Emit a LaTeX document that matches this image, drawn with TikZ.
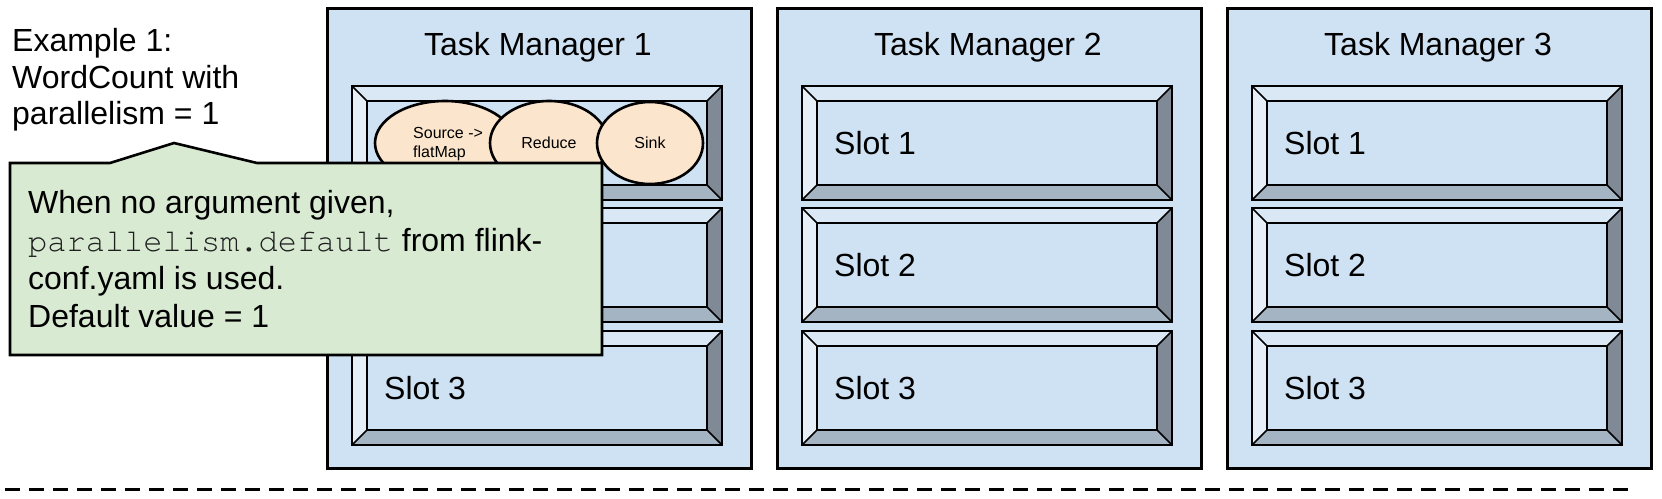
\documentclass[tikz,border=0pt]{standalone}
\usepackage{fontspec}
\setmainfont{Liberation Sans}
\newfontfamily\codefont{TeX Gyre Cursor}
\definecolor{tmblue}{HTML}{CFE2F3}
\definecolor{bvtopc}{HTML}{DAE7F4}
\definecolor{bvleftc}{HTML}{E6EEF7}
\definecolor{bvrightc}{HTML}{7F8A96}
\definecolor{bvbotc}{HTML}{A5B4C2}
\definecolor{calloutgreen}{HTML}{D9EAD3}
\definecolor{peach}{HTML}{FCE5CD}
\definecolor{codegray}{HTML}{1E1E1E}
\tikzset{
  boxline/.style={draw=black, line width=2.6pt},
  bevelline/.style={draw=black, line width=1.6pt},
  tmbox/.style={boxline, fill=tmblue, inner sep=0pt, anchor=north west},
  tmtitle/.style={font=\fontsize{32}{38}\selectfont, inner sep=0pt, anchor=base},
  slotlabel/.style={font=\fontsize{32}{38}\selectfont, inner sep=0pt, anchor=base west},
  bigtext/.style={font=\fontsize{32}{38}\selectfont, inner sep=0pt, anchor=base west},
  opnode/.style={ellipse, draw=black, line width=2.6pt, fill=peach, inner sep=0pt},
  optext/.style={font=\fontsize{16}{19}\selectfont, inner sep=0pt},
  callout/.style={boxline, fill=calloutgreen, line join=miter},
}
\usetikzlibrary{shapes.geometric}
\newcommand{\SlotBox}[4]{%
  \coordinate (#3-a) at (#1,#2);
  \coordinate (#3-b) at ({#1+370},#2);
  \coordinate (#3-c) at ({#1+370},{#2+114});
  \coordinate (#3-d) at (#1,{#2+114});
  \coordinate (#3-ia) at ({#1+15},{#2+15});
  \coordinate (#3-ib) at ({#1+355},{#2+15});
  \coordinate (#3-ic) at ({#1+355},{#2+99});
  \coordinate (#3-id) at ({#1+15},{#2+99});
  \fill[bvtopc] (#3-a)--(#3-b)--(#3-ib)--(#3-ia)--cycle;
  \fill[bvrightc] (#3-b)--(#3-c)--(#3-ic)--(#3-ib)--cycle;
  \fill[bvbotc] (#3-c)--(#3-d)--(#3-id)--(#3-ic)--cycle;
  \fill[bvleftc] (#3-d)--(#3-a)--(#3-ia)--(#3-id)--cycle;
  \fill[tmblue] (#3-ia) rectangle (#3-ic);
  \draw[bevelline] (#3-a)--(#3-ia) (#3-b)--(#3-ib) (#3-c)--(#3-ic) (#3-d)--(#3-id);
  \draw[boxline] (#3-ia) rectangle (#3-ic);
  \draw[boxline] (#3-a) rectangle (#3-c);
  \node[slotlabel] (#3-t) at ({#1+32},{#2+68}) {#4};
}
\begin{document}
\begin{tikzpicture}[x=1pt,y=-1pt]
\useasboundingbox (0,0) rectangle (1662,498);

% Task managers
\node[tmbox, minimum width=424pt, minimum height=460pt] (tm1) at (326,7) {};
\node[tmbox, minimum width=424pt, minimum height=460pt] (tm2) at (776,7) {};
\node[tmbox, minimum width=424pt, minimum height=460pt] (tm3) at (1226,7) {};
\node[tmtitle] (tm1-title) at (538,55) {Task Manager 1};
\node[tmtitle] (tm2-title) at (988,55) {Task Manager 2};
\node[tmtitle] (tm3-title) at (1438,55) {Task Manager 3};

% Slots
\SlotBox{352}{86}{s11}{}
\SlotBox{352}{208}{s12}{}
\SlotBox{352}{331}{s13}{Slot 3}
\SlotBox{802}{86}{s21}{Slot 1}
\SlotBox{802}{208}{s22}{Slot 2}
\SlotBox{802}{331}{s23}{Slot 3}
\SlotBox{1252}{86}{s31}{Slot 1}
\SlotBox{1252}{208}{s32}{Slot 2}
\SlotBox{1252}{331}{s33}{Slot 3}

% Operators
\node[opnode, minimum width=140pt, minimum height=84pt] (src) at (445,143) {};
\node[optext, anchor=base west] (src-t1) at (413,138) {Source ->};
\node[optext, anchor=base west] (src-t2) at (413,157) {flatMap};
\node[opnode, minimum width=118pt, minimum height=84pt] (red) at (549,143) {};
\node[optext, anchor=base] (red-t) at (549,148) {Reduce};
\node[opnode, minimum width=106pt, minimum height=82pt] (sink) at (650,143) {};
\node[optext, anchor=base] (sink-t) at (650,148) {Sink};

% Heading text
\node[bigtext] (ex1) at (12,51) {Example 1:};
\node[bigtext] (ex2) at (12,88) {WordCount with};
\node[bigtext] (ex3) at (12,124) {parallelism = 1};

% Callout
\coordinate (cA) at (10,163);
\coordinate (cB) at (110,163);
\coordinate (cP) at (174,143);
\coordinate (cC) at (257,163);
\coordinate (cD) at (602,163);
\coordinate (cE) at (602,355);
\coordinate (cF) at (10,355);
\draw[callout] (cA)--(cB)--(cP)--(cC)--(cD)--(cE)--(cF)--cycle;
\node[bigtext] (co1) at (28,213) {When no argument given,};
\node[bigtext] (co2) at (28,251) {{\codefont\color{codegray}parallelism.default} from flink-};
\node[bigtext] (co3) at (28,289) {conf.yaml is used.};
\node[bigtext] (co4) at (28,327) {Default value = 1};

% Dashed separator
\coordinate (dl) at (5,489);
\coordinate (dr) at (1633,489);
\draw[line width=3pt, dash pattern=on 15pt off 9pt] (dl) -- (dr);
\end{tikzpicture}
\end{document}
